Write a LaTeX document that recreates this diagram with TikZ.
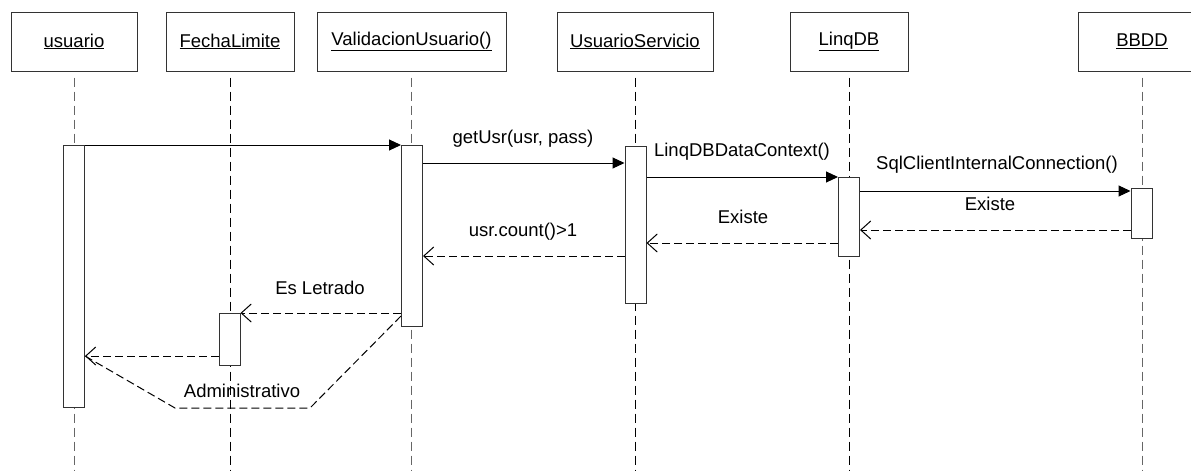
\documentclass[tikz,border=0pt]{standalone}
\usepackage{fontspec}
\setmainfont{Liberation Sans}
\usetikzlibrary{arrows.meta}
\begin{document}
\begin{tikzpicture}[x=1pt,y=-1pt,
  txt/.style={font=\fontsize{18.5}{22}\selectfont},
  obj/.style={txt,draw=black!80,line width=1pt,fill=white,minimum height=59pt,inner sep=0pt},
  act/.style={draw=black!80,line width=1pt,fill=white,minimum width=21pt,inner sep=0pt,anchor=north},
  life/.style={dash pattern=on 9pt off 5pt,line width=1pt},
  sync/.style={line width=1pt,-{Triangle[length=12pt,width=11pt]}},
  reply/.style={line width=1pt,dash pattern=on 8pt off 4pt,-{Straight Barb[length=10pt,width=18pt]}},
  replyline/.style={line width=1pt,dash pattern=on 8pt off 4pt},
  lbl/.style={txt,inner sep=0pt}]

\useasboundingbox (0,0) rectangle (1191,471);

% object boxes
\node[obj,minimum width=126pt] (o1) at (74,41.5)   {\underline{usuario}};
\node[obj,minimum width=128pt] (o2) at (230,41.5)  {\underline{FechaLimite}};
\node[obj,minimum width=189pt] (o3) at (411.5,41.5){\underline{ValidacionUsuario()}};
\node[obj,minimum width=156pt] (o4) at (635,41.5)  {\underline{UsuarioServicio}};
\node[obj,minimum width=118pt] (o5) at (849,41.5)  {\underline{LinqDB}};
\node[obj,minimum width=128pt] (o6) at (1142,41.5) {\underline{BBDD}};

% lifelines
\draw[life,black!60] ([yshift=-6pt]o1.south) -- (o1.south |- 0,471);
\draw[life]          ([yshift=-6pt]o2.south) -- (o2.south |- 0,471);
\draw[life,black!60] ([yshift=-6pt]o3.south) -- (o3.south |- 0,471);
\draw[life]          ([yshift=-6pt]o4.south) -- (o4.south |- 0,471);
\draw[life]          ([yshift=-6pt]o5.south) -- (o5.south |- 0,471);
\draw[life,black!60] ([yshift=-6pt]o6.south) -- (o6.south |- 0,471);

% activation bars
\node[act,minimum height=262pt] (a1) at (74,145)   {};
\node[act,minimum height=52pt]  (a2) at (229.5,313){};
\node[act,minimum height=181pt] (a3) at (412,145)  {};
\node[act,minimum height=157pt] (a4) at (635.5,146){};
\node[act,minimum height=79pt]  (a5) at (849,177)  {};
\node[act,minimum height=50pt]  (a6) at (1141.5,188){};

% calls
\draw[sync] (a1.north east) -- (a3.north west);
\draw[sync] (a3.east |- 0,163) -- (a4.west |- 0,163);
\draw[sync] (a4.east |- 0,177) -- (a5.north west);
\draw[sync] (a5.east |- 0,191) -- (a6.west |- 0,191);

% returns
\draw[reply] (a6.west |- 0,230) -- (a5.east |- 0,230);
\draw[reply] (a5.west |- 0,243) -- (a4.east |- 0,243);
\draw[reply] (a4.west |- 0,256) -- (a3.east |- 0,256);
\draw[reply] (a3.west |- 0,313) -- (a2.north east);
\draw[reply] (a2.west |- 0,356) -- (a1.east |- 0,356);
\draw[replyline] (a3.west |- 0,316) -- (310,408) -- (175,408) -- (a1.east |- 0,356);

% message labels
\node[lbl] (l1) at (523,139) {getUsr(usr, pass)};
\node[lbl] (l2) at (742,152) {LinqDBDataContext()};
\node[lbl] (l3) at (997,165) {SqlClientInternalConnection()};
\node[lbl] (l4) at (990,204) {Existe};
\node[lbl] (l5) at (743,217) {Existe};
\node[lbl] (l6) at (523,232) {usr.count()>1};
\node[lbl] (l7) at (320,288) {Es Letrado};
\node[lbl] (l8) at (242,391) {Administrativo};
\end{tikzpicture}
\end{document}
